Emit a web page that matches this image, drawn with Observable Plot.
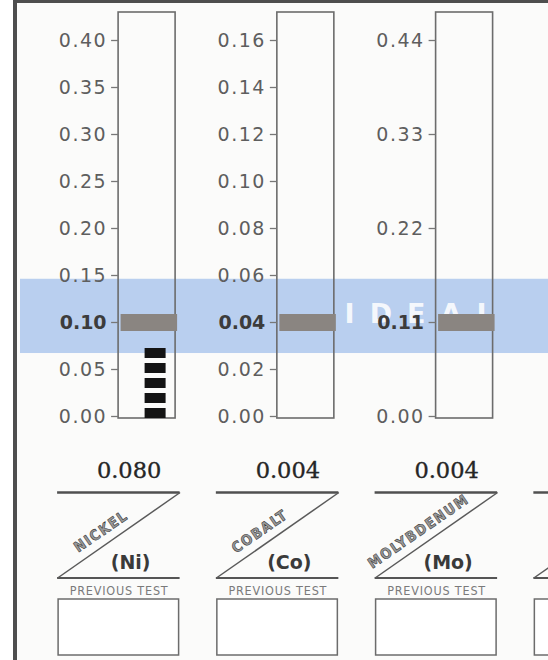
<!DOCTYPE html>
<html>
<head>
<meta charset="utf-8">
<script src="https://cdn.jsdelivr.net/npm/d3@7"></script>
<script src="https://cdn.jsdelivr.net/npm/@observablehq/plot@0.6"></script>
<style>
  html, body { margin: 0; padding: 0; background: #ffffff; }
  #wrap { position: relative; width: 548px; height: 660px; overflow: hidden; background: #fbfbfa; }
  #wrap svg { position: absolute; left: 0; top: 0; overflow: hidden; }
  #frame { position: absolute; left: 13px; top: 0; width: 600px; height: 700px;
           border-left: 4px solid #4e4e4e; border-top: 3px solid #4e4e4e; pointer-events: none; }
  #leftpad { position: absolute; left: 0; top: 0; width: 13px; height: 660px; background: #fff; }
  g[aria-description="tick-labels"] text { letter-spacing: 1.5px; }
  g[aria-description="ideal-word"] text { letter-spacing: 15px; }
  g[aria-description="element-names"] text { letter-spacing: 1.5px; }
  g[aria-description="previous-test"] text { letter-spacing: 0.8px; }
</style>
</head>
<body>
<div id="wrap"><div id="leftpad"></div><div id="frame"></div></div>
<script>
// ---------------- data ----------------
const elements = ["NICKEL", "COBALT", "MOLYBDENUM"];
const symbols = ["(Ni)", "(Co)", "(Mo)"];
const results = [0.080, 0.004, 0.004];          // printed test results
const axisMax = [0.40, 0.16, 0.44];             // top tick of each scale
const nickelTicks = [0.00, 0.05, 0.10, 0.15, 0.20, 0.25, 0.30, 0.35, 0.40];
const cobaltTicks = [0.00, 0.02, 0.04, 0.06, 0.08, 0.10, 0.12, 0.14, 0.16];
const molybdenumTicks = [0.00, 0.11, 0.22, 0.33, 0.44];
const idealLevels = [0.10, 0.04, 0.11];         // grey "ideal" markers
const idealBandNickel = [0.067, 0.146];         // blue IDEAL band, in nickel units
const barLevels = [0.075, 0, 0];                // height of drawn black bars
const idealWord = "IDEAL";
const previousLabel = "PREVIOUS TEST";

// ---------------- layout (pixels) ----------------
const Y0 = 416, Y1 = 40;          // pixel of value 0 and of top tick
const X0 = 146.6, PITCH = 158.75; // centre of first column, column pitch
const yPx = p => (Y0 - p) / (Y0 - Y1);
const xPx = p => p / PITCH;
const half = xPx(28.5);

const tickSets = [nickelTicks, cobaltTicks, molybdenumTicks];
const panels = elements.map((name, i) => ({
  i, name, symbol: symbols[i], result: results[i], max: axisMax[i],
  ideal: idealLevels[i], bar: barLevels[i]
}));
const tickRows = tickSets.flatMap((arr, i) =>
  arr.map(v => ({i, v, n: v / axisMax[i], ideal: v === idealLevels[i]})));
const slots = d3.range(elements.length + 1).map(i => ({i, panel: panels[i]}));
const fmt2 = d3.format(".2f"), fmt3 = d3.format(".3f");
const left = i => i + xPx(-89.5), right = i => i + xPx(33);

const sans = "DejaVu Sans, Liberation Sans, sans-serif";
const narrow = "Liberation Sans Narrow, DejaVu Sans Condensed, Liberation Sans, sans-serif";

const chart = Plot.plot({
  width: 548, height: 660,
  marginLeft: 20, marginRight: 0, marginTop: 0, marginBottom: 0,
  x: {type: "linear", domain: [0, 2], range: [X0, X0 + 2 * PITCH], axis: null},
  y: {type: "linear", domain: [0, 1], range: [Y0, Y1], axis: null},
  style: {background: "transparent", overflow: "hidden"},
  marks: [
    // blue IDEAL band
    Plot.rect([idealBandNickel], {
      y1: d => d[0] / axisMax[0], y2: d => d[1] / axisMax[0], fill: "#b9cfef"
    }),
    Plot.text([idealWord], {
      x: () => 2, y: () => (idealBandNickel[0] + idealBandNickel[1]) / 2 / axisMax[0],
      text: d => d, dx: -38, dy: -2, fill: "#ffffff", fillOpacity: 0.85,
      fontSize: 27, fontWeight: "bold", fontFamily: sans, ariaDescription: "ideal-word"
    }),
    // column outlines
    Plot.rect(panels, {
      x1: d => d.i - half, x2: d => d.i + half, y1: () => 0, y2: () => yPx(12),
      fill: "none", stroke: "#6c6c6c", strokeWidth: 1.6, insetBottom: -2
    }),
    // tick marks
    Plot.ruleY(tickRows, {
      y: "n", x1: d => d.i - half - xPx(7), x2: d => d.i - half,
      stroke: "#777", strokeWidth: 1.3
    }),
    // tick labels
    Plot.text(tickRows.filter(d => !d.ideal), {
      x: d => d.i - half, y: "n", text: d => fmt2(d.v), dx: -11.5,
      textAnchor: "end", fontSize: 19, fontFamily: sans, fill: "#5e5e5e",
      ariaDescription: "tick-labels"
    }),
    Plot.text(tickRows.filter(d => d.ideal), {
      x: d => d.i - half, y: "n", text: d => fmt2(d.v), dx: -12,
      textAnchor: "end", fontSize: 19, fontWeight: "bold", fontFamily: sans, fill: "#3c3c3c"
    }),
    // grey ideal markers
    Plot.ruleY(panels, {
      y: d => d.ideal / d.max, x1: d => d.i - half + xPx(2.5), x2: d => d.i + half + xPx(2),
      stroke: "#8a8581", strokeWidth: 17
    }),
    // black result bars
    Plot.ruleX(panels.filter(d => d.bar > 0), {
      x: "i", y1: () => 0, y2: d => d.bar / d.max, dx: 8, dy: 2,
      stroke: "#141414", strokeWidth: 21, strokeDasharray: "10,5"
    }),
    // result values
    Plot.text(panels, {
      x: "i", y: () => yPx(470), text: d => fmt3(d.result), dx: -18,
      fontSize: 22.5, fontFamily: "DejaVu Serif, Liberation Serif, serif", fill: "#262626",
      stroke: "#262626", strokeWidth: 0.35, paintOrder: "normal"
    }),
    // label blocks
    Plot.ruleY(slots, {
      y: () => yPx(492), x1: d => left(d.i), x2: d => right(d.i), stroke: "#505050", strokeWidth: 2.5
    }),
    Plot.ruleY(slots, {
      y: () => yPx(577.5), x1: d => left(d.i), x2: d => right(d.i), stroke: "#555", strokeWidth: 2
    }),
    Plot.link(slots, {
      x1: d => left(d.i), y1: () => yPx(577.5), x2: d => right(d.i), y2: () => yPx(492),
      stroke: "#5a5a5a", strokeWidth: 1.5
    }),
    Plot.text(panels, {
      x: "i", y: () => yPx(531), text: "name", dx: -46, rotate: -34.6,
      fontSize: 14.5, fontWeight: "bold", fontFamily: narrow,
      fill: "#9a9a9a", stroke: "#3a3a3a", strokeWidth: 0.6, paintOrder: "normal",
      ariaDescription: "element-names"
    }),
    Plot.text(panels, {
      x: "i", y: () => yPx(562), text: "symbol", dx: -16.5,
      fontSize: 19, fontWeight: "bold", fontFamily: sans, fill: "#3a3a3a"
    }),
    Plot.text(panels, {
      x: "i", y: () => yPx(590), text: () => previousLabel, dx: -28,
      fontSize: 12.5, fontFamily: narrow, fill: "#7a7a7a", ariaDescription: "previous-test"
    }),
    Plot.rect(slots, {
      x1: d => left(d.i) + xPx(1), x2: d => right(d.i) - xPx(1),
      y1: () => yPx(655), y2: () => yPx(599),
      fill: "#ffffff", stroke: "#6c6c6c", strokeWidth: 1.5
    })
  ]
});
const wrap = document.getElementById("wrap");
wrap.insertBefore(chart, document.getElementById("frame"));
</script>
</body>
</html>
